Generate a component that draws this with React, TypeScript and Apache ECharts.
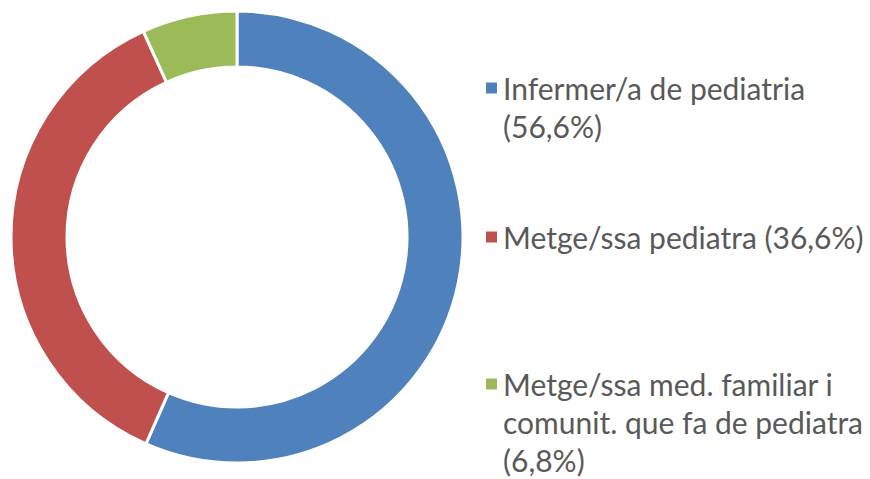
import React, { useEffect, useRef } from "react";
import * as echarts from "echarts";

const categories = [
  "Infermer/a de pediatria",
  "Metge/ssa pediatra",
  "Metge/ssa med. familiar i comunit. que fa de pediatra",
];
const values = [56.6, 36.6, 6.8];
const legendLabels = [
  "Infermer/a de pediatria\n(56,6%)",
  "Metge/ssa pediatra (36,6%)",
  "Metge/ssa med. familiar i\ncomunit. que fa de pediatra\n(6,8%)",
];
const colors = ["#4F81BD", "#C0504D", "#9BBB59"];
const legendTops = [31, 218, 289];

export default function App() {
  const ref = useRef<HTMLDivElement>(null);
  useEffect(() => {
    if (!ref.current) return;
    const chart = echarts.init(ref.current, null, { renderer: "svg" });
    const LH = 38;
    const legends = categories.map((name, i) => {
      const lines = legendLabels[i].split("\n").length;
      const text = "\n".repeat(lines - 1) + legendLabels[i];
      return {
        orient: "vertical",
        left: 484,
        top: legendTops[i],
        padding: 0,
        icon: "rect",
        itemWidth: 13,
        itemHeight: 13,
        itemGap: 0,
        textGap: 11,
        selectedMode: false,
        data: [name],
        formatter: () => text,
        textStyle: {
          fontFamily: "Lato",
          fontSize: 30,
          lineHeight: LH,
          color: "#595959",
        },
      };
    });
    chart.setOption({
      animation: false,
      color: colors,
      legend: legends,
      series: [
        {
          type: "pie",
          center: [237, 237],
          radius: [170, 226],
          startAngle: 90,
          clockwise: true,
          label: { show: false },
          labelLine: { show: false },
          emphasis: { disabled: true },
          itemStyle: { borderColor: "#ffffff", borderWidth: 3 },
          data: categories.map((name, i) => ({ name, value: values[i] })),
        },
      ],
    });
    return () => chart.dispose();
  }, []);
  return <div ref={ref} style={{ width: 870, height: 479, position: "absolute", left: 0, top: 0 }} />;
}
